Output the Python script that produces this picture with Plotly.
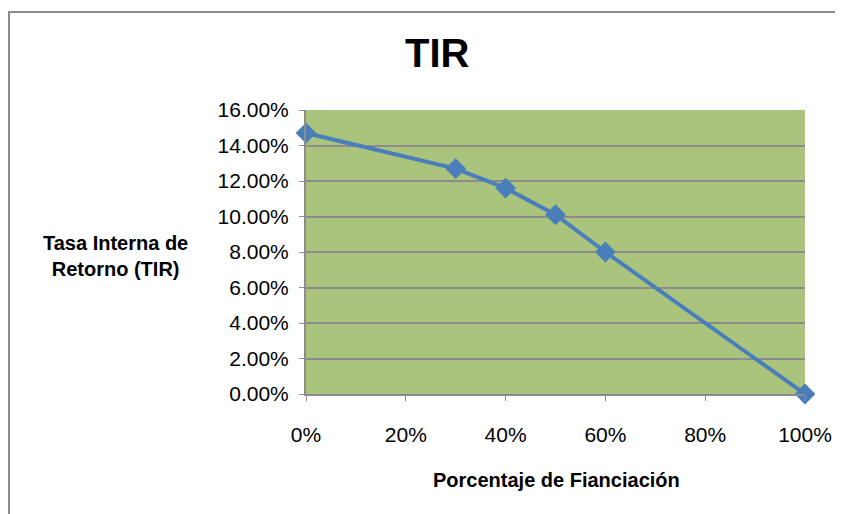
import plotly.graph_objects as go

financing = [0.0, 0.30, 0.40, 0.50, 0.60, 1.00]
tir = [0.147, 0.127, 0.116, 0.101, 0.080, 0.0]

x_ticks = [0, 0.2, 0.4, 0.6, 0.8, 1.0]
y_ticks = [0, 0.02, 0.04, 0.06, 0.08, 0.10, 0.12, 0.14, 0.16]

fig = go.Figure()
fig.add_trace(go.Scatter(
    x=financing, y=tir, mode="lines+markers",
    line=dict(color="#4A7EBB", width=4),
    marker=dict(symbol="diamond", size=16, color="#4A7EBB"),
    cliponaxis=False, showlegend=False,
))

font = "Liberation Sans, Arial, sans-serif"
W, H = 499, 284
fig.update_layout(
    width=835, height=506,
    margin=dict(l=298, r=38, t=102, b=120),
    paper_bgcolor="white",
    plot_bgcolor="#AAC47D",
    font=dict(family=font, color="black", size=21),
    xaxis=dict(range=[0, 1], tickvals=x_ticks, tickformat=".0%",
               showgrid=False, zeroline=False, showline=True,
               linecolor="#8C8C8C", linewidth=2, ticks="outside",
               ticklen=5, tickcolor="#8C8C8C", ticklabelstandoff=16,
               tickfont=dict(size=21)),
    yaxis=dict(range=[0, 0.16], tickvals=y_ticks, tickformat=".2%",
               showgrid=True, gridcolor="#8C8C8C", gridwidth=2,
               zeroline=False, showline=True, linecolor="#8C8C8C",
               linewidth=2, ticks="outside", ticklen=5,
               tickcolor="#8C8C8C", ticklabelstandoff=6,
               tickfont=dict(size=21)),
    shapes=[dict(type="rect", xref="paper", yref="paper",
                 x0=(9 - 306) / W, x1=(870 - 306) / W,
                 y0=(394 - 540) / H, y1=(394 - 12) / H,
                 line=dict(color="#8C8C8C", width=2), layer="below")],
    annotations=[
        dict(text="<b>TIR</b>", xref="paper", yref="paper",
             x=(437 - 306) / W, y=(394 - 53) / H, showarrow=False,
             font=dict(size=40, family=font), xanchor="center", yanchor="middle"),
        dict(text="<b>Tasa Interna de<br>Retorno (TIR)</b>", xref="paper", yref="paper",
             x=(115 - 306) / W, y=(394 - 256) / H, showarrow=False,
             font=dict(size=20, family=font), xanchor="center", yanchor="middle",
             align="center"),
        dict(text="<b>Porcentaje de Fianciación</b>", xref="paper", yref="paper",
             x=(556 - 306) / W, y=(394 - 480) / H, showarrow=False,
             font=dict(size=20, family=font), xanchor="center", yanchor="middle"),
    ],
)

fig.write_html("out.html")
